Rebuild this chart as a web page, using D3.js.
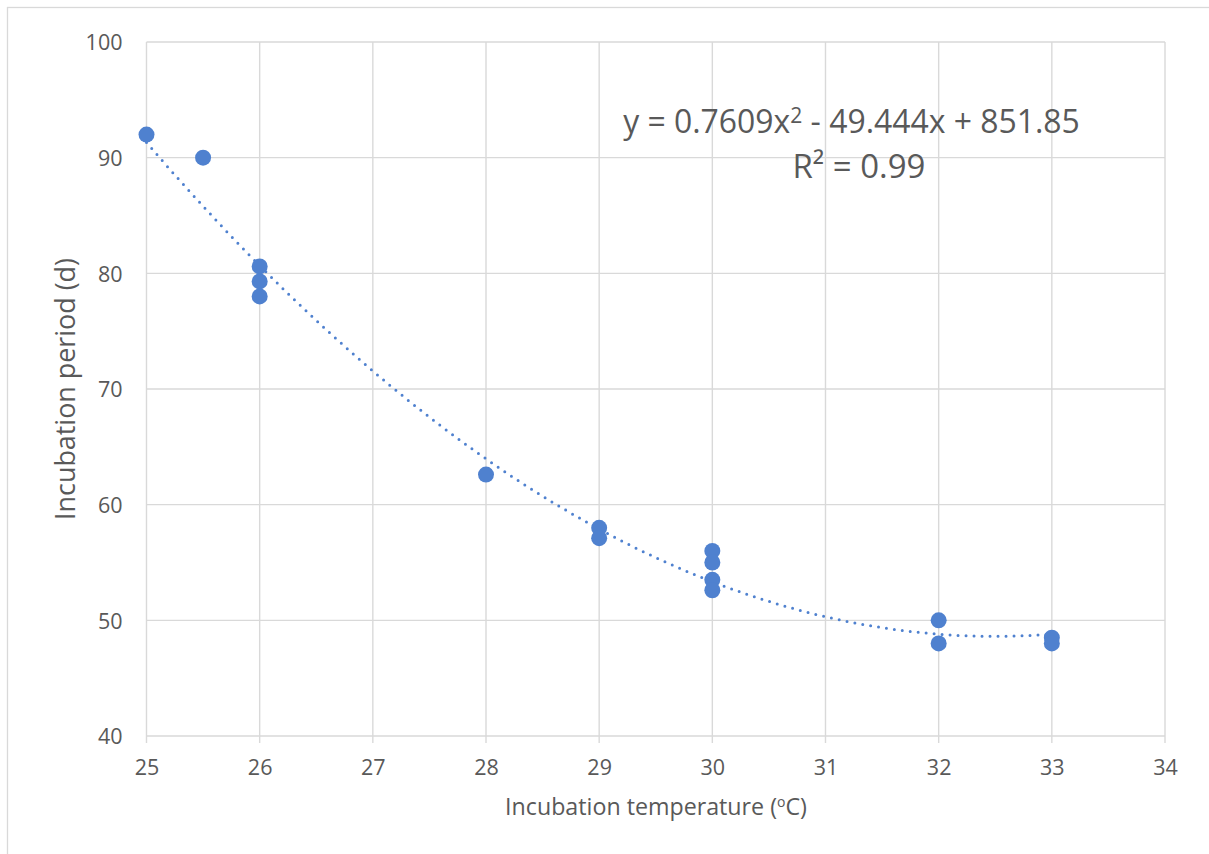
<!DOCTYPE html>
<html><head><meta charset="utf-8">
<script src="https://cdn.jsdelivr.net/npm/d3@7"></script>
<style>
html,body{margin:0;padding:0;background:#fff;}
svg{display:block;}
text{font-family:"Open Sans","Noto Sans",sans-serif;fill:#595959;}
</style>
</head><body>
<svg id="chart" width="1209" height="854"></svg>
<script>
// ---- data ----
const temperatures = [25, 25.5, 26, 26, 26, 28, 29, 29, 30, 30, 30, 30, 32, 32, 33, 33];
const periods      = [92, 90, 80.6, 79.3, 78, 62.6, 58, 57.1, 56, 55, 53.5, 52.6, 50, 48, 48.5, 48];
const xTicks = [25, 26, 27, 28, 29, 30, 31, 32, 33, 34];
const yTicks = [40, 50, 60, 70, 80, 90, 100];
const trendCoefficients = [0.7609, -49.444, 851.85]; // a, b, c
const trendRange = [25, 33];
const equationLabel = "y = 0.7609x";
const equationRest = " - 49.444x + 851.85";
const r2Label = "R² = 0.99";
const xTitle = "Incubation temperature (";
const yTitle = "Incubation period (d)";

// ---- layout ----
const svg = d3.select("#chart");
const L = 146.5, R = 1165, T = 42, B = 736;
const x = d3.scaleLinear().domain([25, 34]).range([L, R]);
const y = d3.scaleLinear().domain([40, 100]).range([B, T]);
const grid = "#d9d9d9";
const blue = "#4f81cf";

// outer border
svg.append("rect").attr("x", 7.5).attr("y", 7.5).attr("width", 1220).attr("height", 870)
  .attr("fill", "none").attr("stroke", grid).attr("stroke-width", 1.3);

// gridlines
svg.append("g").selectAll("line").data(yTicks).join("line")
  .attr("x1", L).attr("x2", R).attr("y1", d => y(d)).attr("y2", d => y(d))
  .attr("stroke", grid).attr("stroke-width", 1.4);
svg.append("g").selectAll("line").data(xTicks).join("line")
  .attr("x1", d => x(d)).attr("x2", d => x(d)).attr("y1", T).attr("y2", B + 7)
  .attr("stroke", grid).attr("stroke-width", 1.4);

// x axis labels
const xAxis = d3.axisBottom(x).tickValues(xTicks).tickSize(0).tickPadding(0).tickFormat(d3.format("d"));
const gx = svg.append("g").attr("transform", `translate(0,${B})`).call(xAxis);
gx.select(".domain").remove();
gx.selectAll("text").attr("dy", null).attr("y", 39).style("font-size", "21.5px").attr("fill", "#595959");

// y axis labels
const yAxis = d3.axisLeft(y).tickValues(yTicks).tickSize(0).tickPadding(0);
const gy = svg.append("g").attr("transform", `translate(${L - 24},0)`).call(yAxis);
gy.select(".domain").remove();
gy.selectAll("text").attr("dy", "0.36em").style("font-size", "21.5px").attr("fill", "#595959");

// trendline
const [a, b, c] = trendCoefficients;
const trendPts = d3.range(0, 201).map(i => {
  const t = trendRange[0] + (trendRange[1] - trendRange[0]) * i / 200;
  return [t, a * t * t + b * t + c];
});
svg.append("path").datum(trendPts)
  .attr("d", d3.line().x(d => x(d[0])).y(d => y(d[1])))
  .attr("fill", "none").attr("stroke", blue).attr("stroke-width", 3)
  .attr("stroke-linecap", "round").attr("stroke-dasharray", "0 8");

// points
svg.append("g").selectAll("circle").data(temperatures.map((t, i) => [t, periods[i]])).join("circle")
  .attr("cx", d => x(d[0])).attr("cy", d => y(d[1])).attr("r", 8).attr("fill", blue);

// fit text width helper
function fit(sel, target) {
  const w = sel.node().getComputedTextLength();
  const fs = parseFloat(sel.style("font-size"));
  sel.style("font-size", (fs * target / w) + "px");
}

// equation
const eq = svg.append("text").attr("x", 851.5).attr("y", 133).attr("text-anchor", "middle").style("font-size", "27px");
eq.append("tspan").text(equationLabel);
eq.append("tspan").text("2").attr("dy", -10).style("font-size", "18px");
eq.append("tspan").text(equationRest).attr("dy", 10);
fit(eq, 457);
const sup = eq.select("tspan:nth-child(2)");
sup.style("font-size", (parseFloat(eq.style("font-size")) * 0.66) + "px");
const r2 = svg.append("text").attr("x", 859).attr("y", 178).attr("text-anchor", "middle")
  .style("font-size", "27px").text(r2Label);
fit(r2, 133);

// axis titles
const xt = svg.append("text").attr("x", 656).attr("y", 815).attr("text-anchor", "middle").style("font-size", "21px");
xt.append("tspan").text(xTitle);
xt.append("tspan").text("o").attr("dy", -8).style("font-size", "14px");
xt.append("tspan").text("C)").attr("dy", 8);
fit(xt, 303);

const yt = svg.append("text").attr("transform", `translate(75,389) rotate(-90)`)
  .attr("text-anchor", "middle").style("font-size", "21px").text(yTitle);
fit(yt, 262);
</script>
</body></html>
